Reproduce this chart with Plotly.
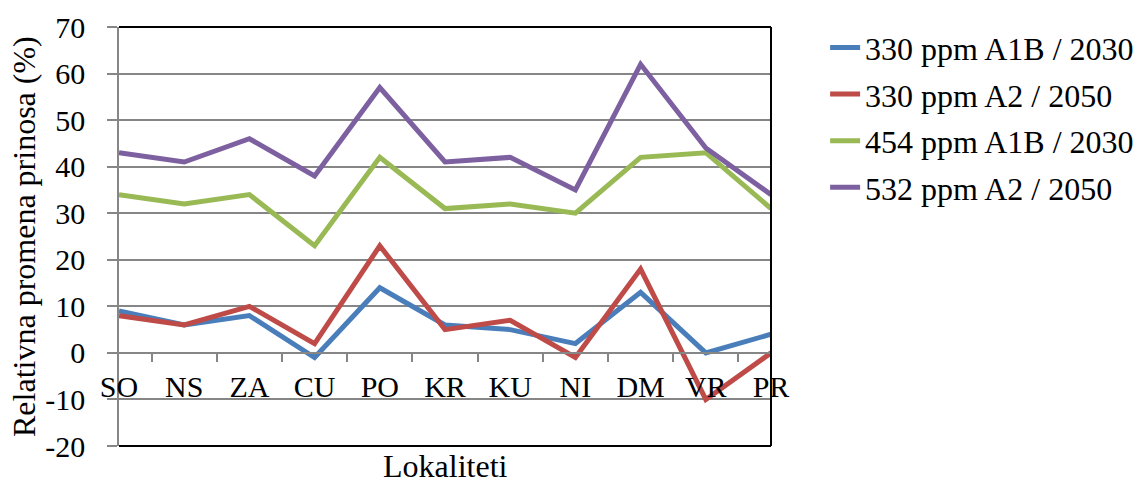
import plotly.graph_objects as go

categories = ["SO", "NS", "ZA", "CU", "PO", "KR", "KU", "NI", "DM", "VR", "PR"]
series_names = ["330 ppm A1B / 2030", "330 ppm A2 / 2050", "454 ppm A1B / 2030", "532 ppm A2 / 2050"]
s330_a1b = [9, 6, 8, -1, 14, 6, 5, 2, 13, 0, 4]
s330_a2 = [8, 6, 10, 2, 23, 5, 7, -1, 18, -10, 0]
s454_a1b = [34, 32, 34, 23, 42, 31, 32, 30, 42, 43, 31]
s532_a2 = [43, 41, 46, 38, 57, 41, 42, 35, 62, 44, 34]
colors = ["#4A7EBB", "#BE4B48", "#98B954", "#7D60A0"]
y_ticks = [-20, -10, 0, 10, 20, 30, 40, 50, 60, 70]

FONT = "Liberation Serif"
FS_TICK = 30
FS = 32
GRID = "#868686"

fig = go.Figure()
for i, (name, vals) in enumerate(zip(series_names, [s330_a1b, s330_a2, s454_a1b, s532_a2])):
    fig.add_trace(go.Scatter(
        x=categories, y=vals, mode="lines", name=name,
        legendgroup=f"g{i}",
        line=dict(color=colors[i], width=5),
    ))

fig.update_layout(
    width=1139, height=482,
    margin=dict(l=119, r=368, t=27, b=36, autoexpand=False),
    paper_bgcolor="white", plot_bgcolor="white",
    font=dict(family=FONT, size=FS, color="black"),
    showlegend=True,
    legend=dict(x=1.083, xanchor="left", y=1.0164, yanchor="top",
                font=dict(family=FONT, size=FS, color="black"),
                tracegroupgap=2, bgcolor="rgba(0,0,0,0)", itemwidth=30),
    xaxis=dict(
        type="category", categoryorder="array", categoryarray=categories,
        anchor="free", position=2/9,
        showline=True, linecolor=GRID, linewidth=1.5,
        ticks="outside", tickson="boundaries", ticklen=8, tickcolor=GRID, tickwidth=1.5,
        showgrid=False, zeroline=False,
        tickfont=dict(family=FONT, size=FS_TICK, color="black"),
        ticklabelstandoff=7,
    ),
    yaxis=dict(
        range=[-20, 70], tickvals=y_ticks, ticktext=[str(v) for v in y_ticks],
        showgrid=True, gridcolor=GRID, gridwidth=1.5,
        zeroline=False,
        showline=True, linecolor=GRID, linewidth=1.5,
        ticks="outside", ticklen=10, tickcolor=GRID, tickwidth=1.5,
        tickfont=dict(family=FONT, size=FS_TICK, color="black"),
        ticklabelstandoff=16,
    ),
    annotations=[
        dict(text="Lokaliteti", xref="paper", yref="paper",
             x=0.5, y=-0.048, xanchor="center", yanchor="middle",
             borderpad=0, showarrow=False,
             font=dict(family=FONT, size=FS, color="black")),
        dict(text="Relativna promena prinosa (%)", xref="paper", yref="paper",
             x=-0.1465, y=0.5, xanchor="center", yanchor="middle", textangle=-90,
             borderpad=0, showarrow=False,
             font=dict(family=FONT, size=FS, color="black")),
    ],
    shapes=[
        dict(type="line", xref="paper", yref="paper", x0=0, x1=1, y0=1, y1=1, line=dict(color="black", width=2)),
        dict(type="line", xref="paper", yref="paper", x0=1, x1=1, y0=0, y1=1, line=dict(color="black", width=2)),
        dict(type="line", xref="paper", yref="paper", x0=0, x1=1, y0=0, y1=0, line=dict(color="black", width=2)),
    ],
)

fig.write_html(
    "out.html",
    config={"displayModeBar": False},
    post_script="document.body.style.margin='0';document.documentElement.style.overflow='hidden';",
)
